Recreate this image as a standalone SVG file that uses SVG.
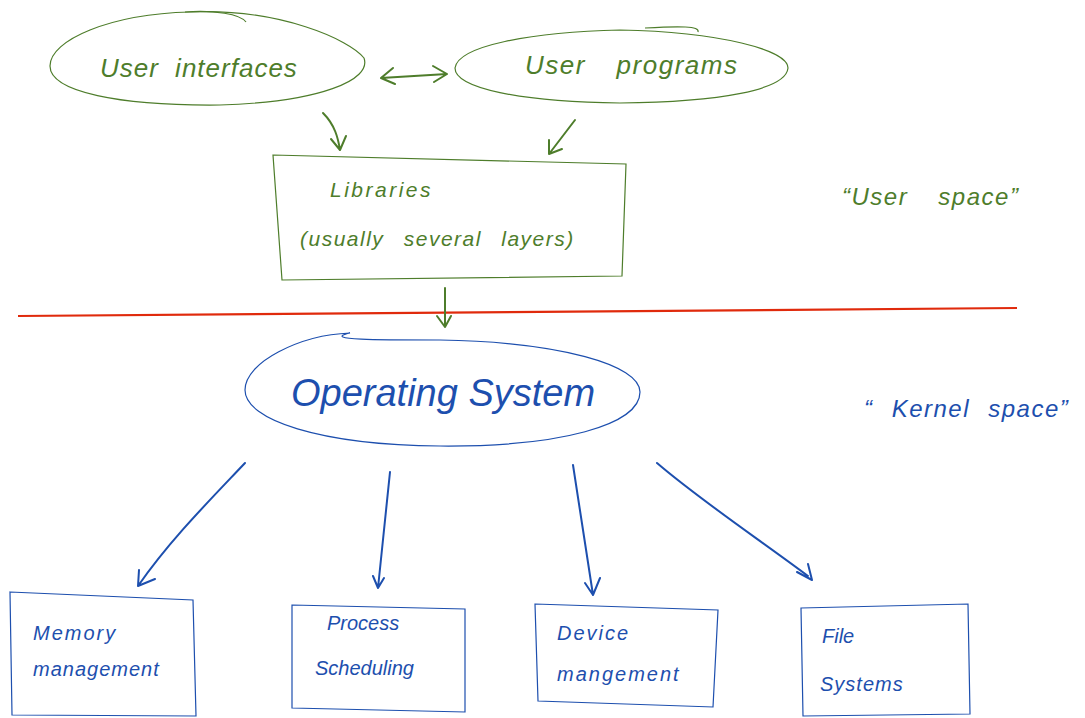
<svg xmlns="http://www.w3.org/2000/svg" width="1085" height="718" viewBox="0 0 1085 718">
<style>
.g{stroke:#4e7d2b;fill:none;stroke-width:1.2}
.gt{fill:#4e7d2b;font-family:"Liberation Sans",sans-serif;font-style:italic}
.b{stroke:#1d4fae;fill:none;stroke-width:1.2}
.bt{fill:#1d4fae;font-family:"Liberation Sans",sans-serif;font-style:italic}
.ga{stroke:#4e7d2b;fill:none;stroke-width:2;stroke-linecap:round;stroke-linejoin:round}
.ba{stroke:#1d4fae;fill:none;stroke-width:2;stroke-linecap:round;stroke-linejoin:round}
</style>
<rect width="1085" height="718" fill="#ffffff"/>
<g id="user-interfaces">
<path class="g" d="M190,12 C280,8 350,40 364,58 C372,80 320,102 220,105 C120,106 50,92 50,66 C50,40 110,14 190,12 Z"/>
<path class="g" d="M185,12 C215,10 240,14 246,22"/>
<text class="gt" x="100" y="77" font-size="26" letter-spacing="1" word-spacing="8">User interfaces</text>
</g>
<g id="user-programs">
<path class="g" d="M620,30 C720,32 788,50 788,68 C786,90 720,102 620,103 C520,102 455,88 455,68 C458,46 530,32 620,30 Z"/>
<path class="g" d="M645,28 C680,26 700,26 698,32"/>
<text class="gt" x="525" y="74" font-size="26" letter-spacing="1.5" word-spacing="22">User programs</text>
</g>
<g id="libraries">
<path class="g" d="M273,155 L626,164 L622,276 L282,280 Z"/>
<text class="gt" x="330" y="197" font-size="21" letter-spacing="2.5">Libraries</text>
<text class="gt" x="300" y="246" font-size="21" letter-spacing="1.5" word-spacing="12">(usually several layers)</text>
</g>
<g id="user-space">
<text class="gt" x="842" y="205" font-size="24" letter-spacing="1.5" word-spacing="22">“User space”</text>
</g>
<line x1="18" y1="316" x2="1017" y2="308" stroke="#e02a0c" stroke-width="2.2"/>
<g id="operating-system">
<path class="b" d="M440,340 C560,342 640,365 640,392 C640,425 560,447 440,446 C320,445 245,420 245,390 C245,362 300,335 350,333 C320,340 380,340 440,340 Z"/>
<text class="bt" x="291" y="406" font-size="38">Operating  System</text>
</g>
<g id="kernel-space">
<text class="bt" x="864" y="417" font-size="24" letter-spacing="1.5" word-spacing="10">“ Kernel space”</text>
</g>
<g id="memory-management">
<path class="b" d="M10,592 L193,600 L196,716 L12,715 Z"/>
<text class="bt" x="33" y="640" font-size="20" letter-spacing="2">Memory</text>
<text class="bt" x="33" y="676" font-size="20" letter-spacing="1">management</text>
</g>
<g id="process-scheduling">
<path class="b" d="M292,605 L465,609 L465,712 L292,708 Z"/>
<text class="bt" x="327" y="630" font-size="20">Process</text>
<text class="bt" x="315" y="675" font-size="20">Scheduling</text>
</g>
<g id="device-management">
<path class="b" d="M535,604 L718,610 L713,707 L538,701 Z"/>
<text class="bt" x="557" y="640" font-size="20" letter-spacing="2">Device</text>
<text class="bt" x="557" y="681" font-size="20" letter-spacing="2">mangement</text>
</g>
<g id="file-systems">
<path class="b" d="M801,608 L968,604 L970,714 L803,716 Z"/>
<text class="bt" x="822" y="643" font-size="20">File</text>
<text class="bt" x="820" y="691" font-size="20" letter-spacing="1">Systems</text>
</g>
<g id="connectors">
<path class="ga" d="M381,78 L447,74 M393,68 L381,78 L395,84 M433,66 L447,74 L434,82"/>
<path class="ga" d="M323,113 C335,125 338,138 340,150 M331,139 L340,150 L346,136"/>
<path class="ga" d="M575,120 L549,154 M549,140 L549,154 L562,149"/>
<path class="ga" d="M445,288 L445,327 M437,316 L445,327 L451,316"/>
<path class="ba" d="M245,463 C210,500 170,540 138,586 M139,570 L138,586 L155,579"/>
<path class="ba" d="M390,472 L378,588 M373,576 L378,588 L384,578"/>
<path class="ba" d="M573,465 C580,510 586,550 593,595 M585,583 L593,595 L600,578"/>
<path class="ba" d="M657,463 C700,500 760,540 808,576 M797,572 L812,580 L808,564"/>
</g>
</svg>
